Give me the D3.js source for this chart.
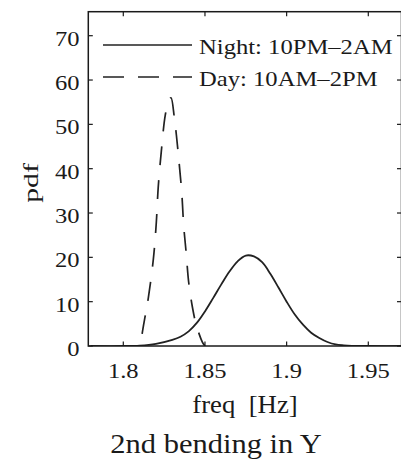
<!DOCTYPE html>
<html>
<head>
<meta charset="utf-8">
<script src="https://cdn.jsdelivr.net/npm/d3@7"></script>
<style>
  html, body { margin: 0; padding: 0; background: #fff; }
  svg { display: block; }
  text { font-family: "Liberation Serif", "Times New Roman", serif; fill: #1a1a1a; }
</style>
</head>
<body>
<svg id="chart" width="401" height="463"></svg>
<script>
// ---- data ----
const nightFreq = [1.78, 1.80, 1.81, 1.82, 1.83, 1.835, 1.84, 1.845, 1.85, 1.855, 1.86, 1.865, 1.87, 1.875,
                   1.88, 1.885, 1.89, 1.895, 1.90, 1.905, 1.91, 1.915, 1.92, 1.925, 1.93, 1.935, 1.94, 1.95, 1.975];
const nightPdf  = [0, 0, 0.1, 0.5, 1.4, 2.1, 3.3, 5.2, 7.8, 10.8, 13.9, 16.8, 19.1, 20.4,
                   20.2, 18.9, 16.3, 13.2, 10.0, 7.1, 4.8, 3.0, 1.8, 0.9, 0.35, 0.15, 0.05, 0, 0];
const dayFreq = [1.8107, 1.8116, 1.8135, 1.8153, 1.8184, 1.8202, 1.8214, 1.8233, 1.8257, 1.8280, 1.8292,
                 1.8312, 1.8325, 1.8340, 1.8358, 1.8370, 1.8385, 1.8400, 1.8423, 1.8447, 1.8484, 1.8500];
const dayPdf  = [0, 2.9, 7.0, 10.8, 19.6, 27.8, 35.9, 44.0, 52.1, 55.5, 56.0,
                 51.7, 47.6, 42.0, 34.5, 27.0, 21.0, 14.5, 8.8, 4.7, 0.9, 0];
const xTicks = [1.8, 1.85, 1.9, 1.95];
const yTicks = [0, 10, 20, 30, 40, 50, 60, 70];
const legendLabels = ["Night: 10PM\u20132AM", "Day: 10AM\u20132PM"];
const xLabel = "freq  [Hz]";
const yLabel = "pdf";
const title = "2nd bending in Y";

// ---- layout ----
const svg = d3.select("#chart");
const box = { left: 88.3, right: 401.5, top: 11.7, bottom: 346 };
const x = d3.scaleLinear().domain([1.8, 1.95]).range([123.3, 368.3]);
const y = d3.scaleLinear().domain([0, 70]).range([346, 35.7]);
const ink = "#1a1a1a";
const tickLen = 4.5;

svg.append("rect").attr("width", 401).attr("height", 463).attr("fill", "#fff");

svg.append("clipPath").attr("id", "clip").append("rect")
  .attr("x", box.left).attr("y", box.top)
  .attr("width", box.right - box.left).attr("height", box.bottom - box.top);

// curves
const line = d3.line().x(d => x(d[0])).y(d => y(d[1])).curve(d3.curveCatmullRom.alpha(0.5));
const plot = svg.append("g").attr("clip-path", "url(#clip)");
plot.append("path")
  .datum(nightFreq.map((f, i) => [f, nightPdf[i]]))
  .attr("d", line).attr("fill", "none").attr("stroke", "#222").attr("stroke-width", 1.8);
plot.append("path")
  .datum(dayFreq.map((f, i) => [f, dayPdf[i]]))
  .attr("d", line).attr("fill", "none").attr("stroke", "#222").attr("stroke-width", 1.7)
  .attr("stroke-dasharray", "19,15").attr("stroke-dashoffset", 22);

// axes box
svg.append("rect")
  .attr("x", box.left).attr("y", box.top)
  .attr("width", box.right - box.left).attr("height", box.bottom - box.top)
  .attr("fill", "none").attr("stroke", ink).attr("stroke-width", 1.5);

// x ticks (bottom & top, inward)
const gx = svg.append("g");
xTicks.forEach(t => {
  const px = x(t);
  gx.append("line").attr("x1", px).attr("x2", px).attr("y1", box.bottom).attr("y2", box.bottom - tickLen)
    .attr("stroke", ink).attr("stroke-width", 1.2);
  gx.append("line").attr("x1", px).attr("x2", px).attr("y1", box.top).attr("y2", box.top + tickLen)
    .attr("stroke", ink).attr("stroke-width", 1.2);
  gx.append("g").attr("transform", `translate(${px},378) scale(1.17,1)`)
    .append("text").attr("text-anchor", "middle").attr("font-size", 21)
    .text(d3.format("")(t));
});

// y ticks (left & right, inward)
const gy = svg.append("g");
yTicks.forEach(t => {
  const py = y(t);
  gy.append("line").attr("x1", box.left).attr("x2", box.left + tickLen).attr("y1", py).attr("y2", py)
    .attr("stroke", ink).attr("stroke-width", 1.2);
  gy.append("line").attr("x1", box.right).attr("x2", box.right - tickLen).attr("y1", py).attr("y2", py)
    .attr("stroke", ink).attr("stroke-width", 1.2);
  gy.append("g").attr("transform", `translate(79.5,${py + 10}) scale(1.17,1)`)
    .append("text").attr("text-anchor", "end").attr("font-size", 21)
    .text(t);
});

// axis labels & title
svg.append("g").attr("transform", "translate(245,413) scale(1.07,1)")
  .append("text").attr("text-anchor", "middle").attr("font-size", 25)
  .attr("xml:space", "preserve").style("white-space", "pre").text(xLabel);
svg.append("g").attr("transform", "translate(37.5,183) rotate(-90) scale(1.35,1)")
  .append("text").attr("text-anchor", "middle").attr("font-size", 22).text(yLabel);
svg.append("g").attr("transform", "translate(216,453) scale(1.13,1)")
  .append("text").attr("text-anchor", "middle").attr("font-size", 27).text(title);

// legend
const leg = svg.append("g");
const legY = [45, 77];
const legDash = [null, "21,14"];
legendLabels.forEach((lab, i) => {
  const l = leg.append("line").attr("x1", 103).attr("x2", 192).attr("y1", legY[i]).attr("y2", legY[i])
    .attr("stroke", "#222").attr("stroke-width", 1.7);
  if (legDash[i]) l.attr("stroke-dasharray", legDash[i]);
  leg.append("g").attr("transform", `translate(199,${legY[i] + 8.5}) scale(1.12,1)`)
    .append("text").attr("font-size", 22).text(lab);
});
</script>
</body>
</html>
